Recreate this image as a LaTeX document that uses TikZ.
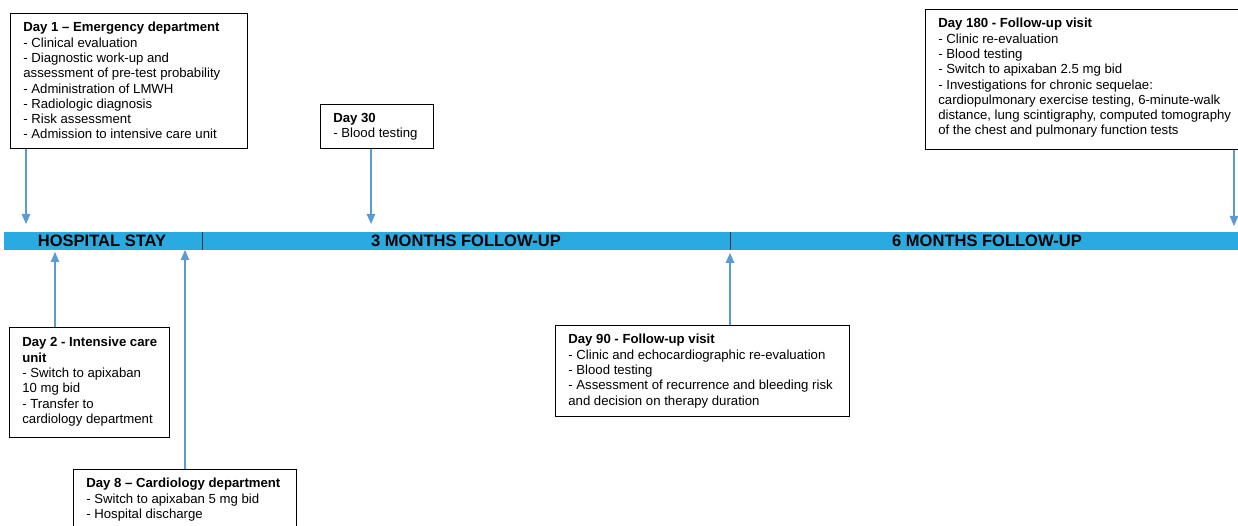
\documentclass[tikz,border=0pt]{standalone}
\usepackage{fontspec}
\setmainfont{Liberation Sans}
\usetikzlibrary{positioning,arrows.meta}
\definecolor{barblue}{HTML}{29ABE2}
\definecolor{arrblue}{HTML}{5B9BD5}

\begin{document}
\begin{tikzpicture}[x=0.02cm, y=-0.02cm,
  evbox/.style={draw, line width=0.7pt, anchor=north west, inner sep=0pt},
  evtext/.style={align=left, anchor=north west, inner sep=0pt, font=\fontsize{7.5}{8.7}\selectfont},
  seg/.style={fill=barblue, anchor=west, minimum height=0.36cm, inner sep=0pt},
  seglabel/.style={font=\fontsize{9.4}{10}\selectfont\bfseries},
  arr/.style={-{Triangle[length=0.2cm, width=0.17cm]}, arrblue, line width=0.6pt}
]
\useasboundingbox (0,0) rectangle (1238,526);

% timeline bar
\node[seg, minimum width=3.96cm] (hosp) at (4,241) {};
\node[seg, minimum width=10.56cm] (m3) at (202,241) {};
\node[seg, minimum width=10.2cm] (m6) at (730,241) {};
\node[seglabel] (lhosp) at (102,241) {HOSPITAL STAY};
\node[seglabel] (lm3) at (466,241) {3 MONTHS FOLLOW-UP};
\node[seglabel] (lm6) at (987,241) {6 MONTHS FOLLOW-UP};
\draw[line width=0.6pt, black!80] (hosp.north east) -- (hosp.south east);
\draw[line width=0.6pt, black!80] (m3.north east) -- (m3.south east);

% events above the bar
\node[evbox, minimum width=4.74cm, minimum height=2.7cm] (d1) at (10,13) {};
\node[evtext] (d1t) at ([shift={(13,9)}]d1.north west) {\textbf{Day 1 – Emergency department}\\- Clinical evaluation\\- Diagnostic work-up and\\assessment of pre-test probability\\- Administration of LMWH\\- Radiologic diagnosis\\- Risk assessment\\- Admission to intensive care unit};
\node[evbox, minimum width=2.26cm, minimum height=0.88cm] (d30) at (320,104) {};
\node[evtext] (d30t) at ([shift={(13,9)}]d30.north west) {\textbf{Day 30}\\- Blood testing};
\node[evbox, minimum width=6.4cm, minimum height=2.8cm] (d180) at (925,9) {};
\node[evtext] (d180t) at ([shift={(13,9)}]d180.north west) {\textbf{Day 180 - Follow-up visit}\\- Clinic re-evaluation\\- Blood testing\\- Switch to apixaban 2.5 mg bid\\- Investigations for chronic sequelae:\\cardiopulmonary exercise testing, 6-minute-walk\\distance, lung scintigraphy, computed tomography\\of the chest and pulmonary function tests};

% events below the bar
\node[evbox, minimum width=3.2cm, minimum height=2.2cm] (d2) at (9,327) {};
\node[evtext] (d2t) at ([shift={(13,10)}]d2.north west) {\textbf{Day 2 - Intensive care}\\\textbf{unit}\\- Switch to apixaban\\10 mg bid\\- Transfer to\\cardiology department};
\node[evbox, minimum width=4.46cm, minimum height=1.4cm] (d8) at (73,469) {};
\node[evtext] (d8t) at ([shift={(13,9)}]d8.north west) {\textbf{Day 8 – Cardiology department}\\- Switch to apixaban 5 mg bid\\- Hospital discharge};
\node[evbox, minimum width=5.88cm, minimum height=1.82cm] (d90) at (555,325) {};
\node[evtext] (d90t) at ([shift={(13,9)}]d90.north west) {\textbf{Day 90 - Follow-up visit}\\- Clinic and echocardiographic re-evaluation\\- Blood testing\\- Assessment of recurrence and bleeding risk\\and decision on therapy duration};

% arrows to the bar
\coordinate (t1) at (26,224);
\coordinate (t30) at (371,224);
\coordinate (t180) at (1234,226);
\coordinate (t2) at (55,252);
\coordinate (t8) at (185,250);
\coordinate (t90) at (730,253);
\draw[arr] (d1.south -| t1) -- (t1);
\draw[arr] (d30.south -| t30) -- (t30);
\draw[arr] (d180.south -| t180) -- (t180);
\draw[arr] (d2.north -| t2) -- (t2);
\draw[arr] (d8.north -| t8) -- (t8);
\draw[arr] (d90.north -| t90) -- (t90);
\end{tikzpicture}
\end{document}
